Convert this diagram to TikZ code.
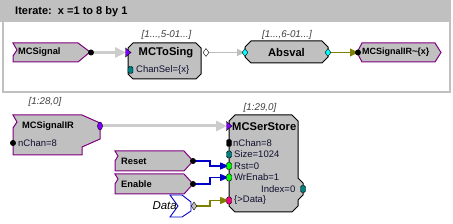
\documentclass[tikz,border=0pt]{standalone}
\usepackage{fontspec}
\setmainfont{Liberation Sans}
\usetikzlibrary{arrows.meta,shapes.geometric}
\definecolor{blk}{RGB}{192,192,192}
\definecolor{framegray}{RGB}{192,192,192}
\definecolor{wire}{RGB}{204,204,204}
\definecolor{thinwire}{RGB}{190,190,190}
\definecolor{sigpurple}{RGB}{128,0,128}
\definecolor{portviolet}{RGB}{128,0,255}
\definecolor{portteal}{RGB}{0,128,128}
\definecolor{portcyan}{RGB}{0,255,255}
\definecolor{portgreen}{RGB}{0,255,0}
\definecolor{portpink}{RGB}{255,0,128}
\definecolor{olivew}{RGB}{128,128,0}
\definecolor{wireblue}{RGB}{0,0,200}
\definecolor{labgray}{RGB}{64,64,64}
\definecolor{paramtext}{RGB}{16,16,48}
\begin{document}
\begin{tikzpicture}[x=1pt,y=-1pt,
  hdr/.style={font=\fontsize{11}{11}\selectfont\bfseries, inner sep=0pt, anchor=west},
  title/.style={font=\fontsize{11.2}{11}\selectfont\bfseries, inner sep=0pt},
  sig/.style={font=\fontsize{9.3}{10}\selectfont\bfseries, inner sep=0pt, anchor=west},
  param/.style={font=\fontsize{9.5}{10}\selectfont, inner sep=0pt, anchor=west, text=paramtext},
  lab/.style={font=\fontsize{9.8}{10}\selectfont\itshape, text=labgray, inner sep=0pt},
  block/.style={draw=black, fill=blk, line width=1pt, line join=miter},
  sigshape/.style={draw=sigpurple, fill=blk, line width=1pt},
  thickwire/.style={draw=wire, line width=3pt, -{Triangle[length=11pt,width=10pt]}},
  graywire/.style={draw=thinwire, line width=1pt, -{Triangle[length=8pt,width=7pt]}},
  olivewire/.style={draw=olivew, line width=1pt, -{Triangle[length=8pt,width=8pt]}},
  bluewire/.style={draw=wireblue, line width=1.4pt, -{Triangle[length=9pt,width=7pt]}},
  olivewire2/.style={draw=olivew, line width=1.4pt, -{Triangle[length=9pt,width=7pt]}},
  dotport/.style={circle, fill=black, minimum size=6pt, inner sep=0pt},
  boxport/.style={draw=black, line width=0.4pt, rounded corners=1.5pt, minimum width=5pt, minimum height=7pt, inner sep=0pt},
  diaport/.style={diamond, draw=black, line width=0.4pt, minimum width=6pt, minimum height=8pt, inner sep=0pt}
]
\useasboundingbox (0,0) rectangle (453,224);

% iterate frame
\fill[framegray] (0,0) rectangle (451,22);
\draw[framegray, line width=2pt] (3,22) -- (3,92) -- (450,92) -- (450,22);
\node[hdr] (hdr) at (15,11.5) {Iterate:\ \ x =1 to 8 by 1};

% ---- shapes ----
\draw[sigshape] (13,43) -- (78,43) -- (90,52) -- (78,62) -- (13,62) -- (13,56) -- (17,50) -- cycle;
\node[sig] (mcsig) at (18,52.5) {MCSignal};

\draw[block] (133,43) -- (196,43) -- (201,48) -- (201,74) -- (196,79) -- (133,79) -- (128,74) -- (128,48) -- cycle;
\node[title] (tosing) at (166,52.5) {MCToSing};
\node[param] (chansel) at (136,70) {ChanSel=\{x\}};
\node[lab] (lab1) at (166.5,35) {[1...,5-01...]};

\draw[block] (245,47) -- (251,41) -- (322,41) -- (328,47) -- (328,57) -- (322,63) -- (251,63) -- (245,57) -- cycle;
\node[title] (absval) at (286.5,52.5) {Absval};
\node[lab] (lab2) at (287,35) {[1...,6-01...]};

\draw[sigshape] (362,43) -- (435,43) -- (441,52.5) -- (435,62) -- (362,62) -- (357,52.5) -- cycle;
\node[sig, font=\fontsize{9}{10}\selectfont\bfseries] (mcsigout) at (362,52.5) {MCSignalIR\textasciitilde\{x\}};

\draw[sigshape] (13,115) -- (82,115) -- (100,123) -- (100,139) -- (82,147) -- (82,155) -- (13,155) -- (13,128) -- (17,122) -- cycle;
\node[sig] (mcsigir) at (22,126.5) {MCSignalIR};
\node[param] (nchan1) at (18,143) {nChan=8};
\node[lab] (lab3) at (45,102) {[1:28,0]};

\draw[block] (235,115) -- (292,115) -- (298,121) -- (298,178) -- (303,183) -- (303,195) -- (298,200) -- (298,206) -- (292,212) -- (235,212) -- (229,206) -- (229,121) -- cycle;
\node[title, anchor=west] (serstore) at (232,126.5) {MCSerStore};
\node[lab] (lab4) at (260,108) {[1:29,0]};
\node[param] (nchan2) at (233,143) {nChan=8};
\node[param] (size) at (234,154.5) {Size=1024};
\node[param] (rst) at (234,166) {Rst=0};
\node[param] (wrenab) at (234,177.5) {WrEnab=1};
\node[param, anchor=east] (index) at (295.5,189) {Index=0};
\node[param] (datap) at (234,200.5) {\{>Data\}};

\draw[sigshape] (115,151) -- (184,151) -- (193,161) -- (184,171) -- (115,171) -- (115,161) -- (118,156) -- cycle;
\node[sig] (reset) at (121,161.5) {Reset};
\draw[sigshape] (115,174) -- (184,174) -- (193,184) -- (184,194) -- (115,194) -- (115,184) -- (118,179) -- cycle;
\node[sig] (enable) at (121,184.5) {Enable};

\draw[draw=wireblue, line width=0.9pt, fill=white] (170,195) -- (182,195) -- (191,202) -- (191,211) -- (182,217) -- (170,217) -- (178,206) -- cycle;
\node[font=\fontsize{11.5}{12}\selectfont\itshape, inner sep=0pt, anchor=east] (data) at (177,206) {Data};

% ---- port coordinates ----
\coordinate (p-mcsig) at (91,52.5);
\coordinate (p-tosing-in) at (126,52.5);
\coordinate (p-tosing-out) at (206,52.5);
\coordinate (p-abs-in) at (245,52.5);
\coordinate (p-abs-out) at (328,52.5);
\coordinate (p-out-in) at (358,52.5);
\coordinate (p-ir-out) at (100,126);
\coordinate (p-ss-in) at (227,126);
\coordinate (p-reset) at (193,161);
\coordinate (p-enable) at (193,184);
\coordinate (p-data) at (194,206);
\coordinate (p-rst) at (229,166);
\coordinate (p-wr) at (229,177.5);
\coordinate (p-dat) at (229,200.5);

% ---- connectors ----
\draw[thickwire] (p-mcsig) -- (p-tosing-in);
\draw[graywire] (p-tosing-out) -- (p-abs-in);
\draw[olivewire] (p-abs-out) -- (p-out-in);
\draw[thickwire] (p-ir-out) -- (p-ss-in);
\draw[bluewire] (p-reset) -- ++(17,0) |- (p-rst);
\draw[bluewire] (p-enable) -- ++(17,0) |- (p-wr);
\draw[olivewire2] (p-data) -- ++(16,0) |- (p-dat);

% ---- ports ----
\node[dotport] (o-mcsig) at (p-mcsig) {};
\filldraw[fill=portviolet, draw=black, line width=0.4pt] (125.5,48) -- (131,52.5) -- (125.5,57) -- cycle;
\node[boxport, fill=portteal] (o-chansel) at (130.5,70) {};
\node[diaport, fill=white] (o-tosing) at (p-tosing-out) {};
\node[diaport, fill=portcyan] (o-absin) at (p-abs-in) {};
\node[diaport, fill=portcyan] (o-absout) at (p-abs-out) {};
\node[dotport] (o-outin) at (p-out-in) {};
\node[ellipse, fill=portviolet, draw=black, line width=0.4pt, minimum width=5pt, minimum height=8pt, inner sep=0pt] (o-irout) at (p-ir-out) {};
\node[dotport] (o-nchan1) at (13,143) {};
\filldraw[fill=portviolet, draw=black, line width=0.4pt] (226.5,121.5) -- (232,126) -- (226.5,130.5) -- cycle;
\node[boxport, fill=black] (o-nchan2) at (229,143) {};
\node[boxport, fill=portteal] (o-size) at (229,154.5) {};
\node[boxport, fill=portgreen] (o-rst) at (p-rst) {};
\node[boxport, fill=portgreen] (o-wr) at (p-wr) {};
\node[boxport, fill=portpink] (o-dat) at (p-dat) {};
\node[boxport, fill=portteal] (o-index) at (303,189) {};
\node[dotport] (o-reset) at (p-reset) {};
\node[dotport] (o-enable) at (p-enable) {};
\node[diaport, fill=blk] (o-data) at (p-data) {};
\end{tikzpicture}
\end{document}
